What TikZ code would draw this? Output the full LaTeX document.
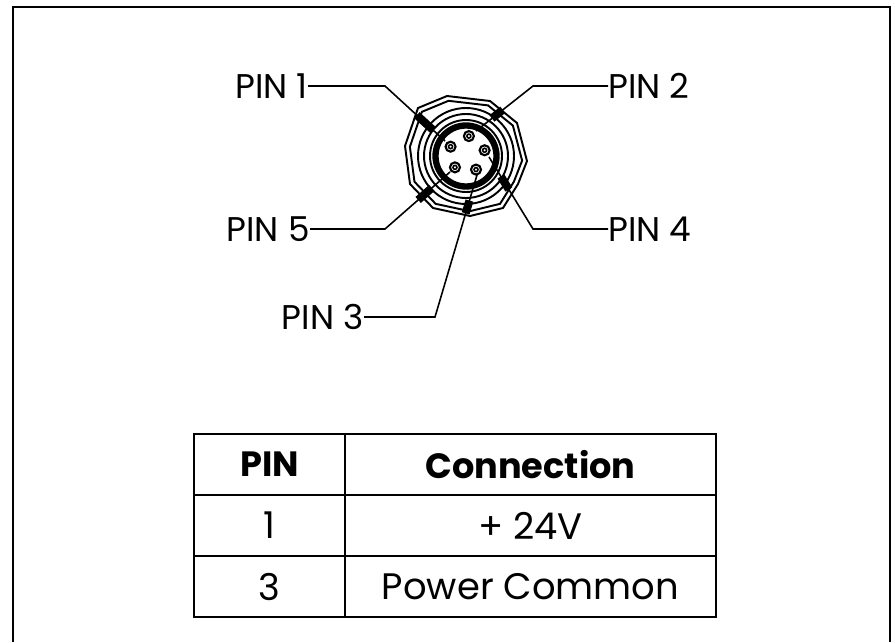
\documentclass[tikz,border=0pt]{standalone}
\usepackage{fontspec}
\setmainfont{Poppins}
\usetikzlibrary{calc}
\tikzset{
  lead/.style={line width=0.9pt},
  chip/.style={line width=4.6pt},
  ring/.style={line width=1.1pt},
  pinlbl/.style={font=\fontsize{19.5}{22}\selectfont,inner sep=0pt},
  cell/.style={font=\fontsize{21}{24}\selectfont,inner sep=0pt},
  head/.style={font=\fontsize{20}{24}\selectfont\bfseries,inner sep=0pt},
}
\begin{document}
\begin{tikzpicture}[x=0.02cm,y=-0.02cm]
  \useasboundingbox (0,0) rectangle (895,642);
  \draw[line width=1.4pt] (13,642) -- (13,7) -- (890,7) -- (890,642);

  % connector face
  \coordinate (C) at (466,156);
  \coordinate (F) at (467,154);
  \foreach \s in {1,0.92}{
    \begin{scope}[shift={(C)},scale=\s]
      \draw[ring] (-61,-10) \foreach \x/\y in {-48/-48,-19/-60,24/-55,51/-33,61/5,52/28,37/52,4/60,-33/52,-56/28}{ -- (\x,\y) } -- cycle;
    \end{scope}
  }
  \foreach \r in {48,42,36}{
    \draw[ring] (C) circle (\r);
  }
  \draw[line width=3.6pt] (C) circle (30.5);
  \foreach \n/\a in {Q1/-156,Q2/-84,Q4/-12,Q3/60,Q5/132}{
    \coordinate (\n) at ($(F)+(\a:18)$);
    \draw[line width=1.2pt] (\n) circle (5);
    \draw[line width=0.9pt] (\n) circle (2);
  }

  % labels
  \node[pinlbl,anchor=east](L1) at (308,86) {PIN 1};
  \node[pinlbl,anchor=west](L2) at (608,86) {PIN 2};
  \node[pinlbl,anchor=east](L5) at (310,229) {PIN 5};
  \node[pinlbl,anchor=west](L4) at (608,229) {PIN 4};
  \node[pinlbl,anchor=east](L3) at (364,317) {PIN 3};

  \coordinate (K1) at (385,86);  \coordinate (E1) at (445,141);
  \coordinate (K2) at (533,86);  \coordinate (E2) at (476,131);
  \coordinate (K4) at (533,229); \coordinate (E4) at (489,157);
  \coordinate (K5) at (385,229); \coordinate (E5) at (450,172);
  \coordinate (K3) at (435,317); \coordinate (E3) at (477,175);

  \foreach \l/\k/\e/\s/\t in {L1/K1/E1/0.53/0.8,L2/K2/E2/0.53/0.72,L4/K4/E4/0.55/0.73,L5/K5/E5/0.51/0.72,L3/K3/E3/0.73/0.82}{
    \draw[lead] (\l) -- (\k) -- (\e);
    \draw[chip] ($(\k)!\s!(\e)$) -- ($(\k)!\t!(\e)$);
  }

  % table
  \draw[line width=1.1pt] (194,434) rectangle (716,617);
  \draw[line width=1.1pt] (345,434) -- (345,617);
  \draw[line width=1.1pt] (194,495) -- (716,495);
  \draw[line width=1.1pt] (194,556) -- (716,556);
  \node[head](H1) at (269.5,464.5) {PIN};
  \node[head](H2) at (530.5,464.5) {Connection};
  \node[cell](A1) at (269.5,525.5) {1};
  \node[cell](B1) at (530.5,525.5) {+ 24V};
  \node[cell](A2) at (269.5,586.5) {3};
  \node[cell](B2) at (530.5,586.5) {Power Common};
\end{tikzpicture}
\end{document}
